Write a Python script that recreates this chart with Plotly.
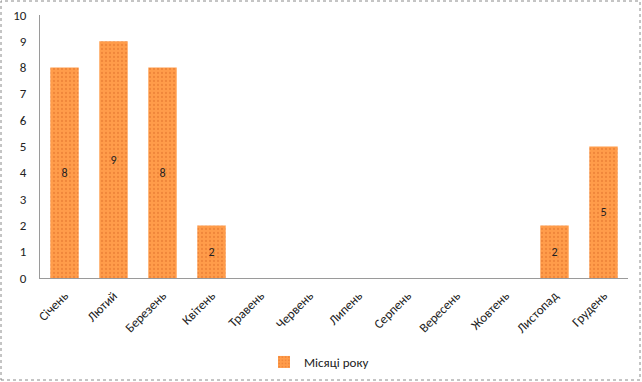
import plotly.graph_objects as go

months = ["Січень", "Лютий", "Березень", "Квітень", "Травень", "Червень",
          "Липень", "Серпень", "Вересень", "Жовтень", "Листопад", "Грудень"]
values = [8, 9, 8, 2, 0, 0, 0, 0, 0, 0, 2, 5]
labels = ["8", "9", "8", "2", "", "", "", "", "", "", "2", "5"]
series_name = "Місяці року"

W, H = 642, 382
ml, mr, mt, mb = 40, 14, 15, 104
pw, ph = W - ml - mr, H - mt - mb

fig = go.Figure()
fig.add_trace(go.Bar(
    x=months, y=values, name=series_name,
    text=labels, textposition="inside", insidetextanchor="middle",
    textfont=dict(color="#222222", size=12, family="Carlito, Liberation Sans, sans-serif"),
    marker=dict(color="#FF9C4A",
                line=dict(color="#FFB580", width=0),
                pattern=dict(shape=".", fgcolor="#E0702A", bgcolor="#FF9C4A",
                             size=4, solidity=0.25)),
    width=0.58, showlegend=True,
))

fig.update_layout(
    width=W, height=H,
    margin=dict(l=ml, r=mr, t=mt, b=mb, autoexpand=False),
    paper_bgcolor="white", plot_bgcolor="white",
    font=dict(family="Carlito, Liberation Sans, sans-serif", size=12, color="#222222"),
    xaxis=dict(showgrid=False, showline=True, linecolor="#9a9a9a", linewidth=1,
               tickangle=-45, ticks="", tickfont=dict(size=13), automargin=False,
               ticklabelstandoff=4),
    yaxis=dict(range=[0, 10], dtick=1, showgrid=False, showline=True,
               linecolor="#9a9a9a", linewidth=1, ticks="", zeroline=False,
               tickfont=dict(size=13), automargin=False, ticklabelstandoff=10),
    legend=dict(orientation="h", x=(319 - ml) / pw, xanchor="center", yref="container",
                y=(H - 362) / H, yanchor="middle", font=dict(size=13)),
    shapes=[dict(type="rect", xref="paper", yref="paper",
                 x0=(1 - ml) / pw, x1=(640 - ml) / pw,
                 y0=(mt + ph - 380) / ph, y1=(mt + ph - 1) / ph,
                 line=dict(color="#8a8a8a", width=1, dash="dot"))],
)

fig.write_html("out.html", config={"displayModeBar": False},
               post_script="document.body.style.margin='0';document.body.style.overflow='hidden';")
